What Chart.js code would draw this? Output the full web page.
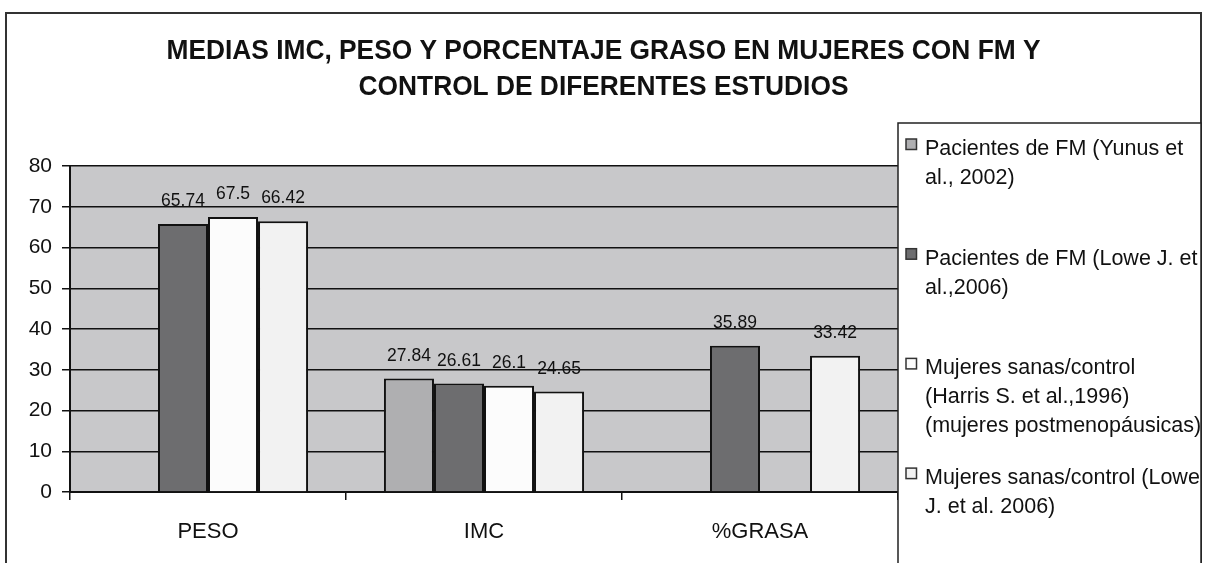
<!DOCTYPE html>
<html>
<head>
<meta charset="utf-8">
<script src="https://cdn.jsdelivr.net/npm/chart.js@4.4.1/dist/chart.umd.min.js"></script>
<style>
  html, body { margin: 0; padding: 0; background: #fff; }
  #wrap { width: 1211px; height: 563px; position: relative; overflow: hidden; }
</style>
</head>
<body>
<div id="wrap"><canvas id="c" width="1211" height="563"></canvas></div>
<script>
// ---- data ----
const categories = ['PESO', 'IMC', '%GRASA'];
const yunus2002   = [null, 27.84, null];
const loweFM2006  = [65.74, 26.61, 35.89];
const harris1996  = [67.5, 26.1, null];
const loweCtl2006 = [66.42, 24.65, 33.42];
const yTicks = [0, 10, 20, 30, 40, 50, 60, 70, 80];
const titleLines = ['MEDIAS IMC, PESO Y PORCENTAJE GRASO EN MUJERES CON FM Y', 'CONTROL DE DIFERENTES ESTUDIOS'];
const legendLines = [
  ['Pacientes de FM (Yunus et', 'al., 2002)'],
  ['Pacientes de FM (Lowe J. et', 'al.,2006)'],
  ['Mujeres sanas/control', '(Harris S. et al.,1996)', '(mujeres postmenopáusicas)'],
  ['Mujeres sanas/control (Lowe', 'J. et al. 2006)']
];
const seriesColors = ['#afafb1', '#6d6d6f', '#fcfcfc', '#f2f2f2'];

const FONT = '"Liberation Sans", Arial, Helvetica, sans-serif';
const INK = '#111111';

const bgPlugin = {
  id: 'bg',
  beforeDraw(chart) {
    const ctx = chart.ctx, a = chart.chartArea;
    ctx.save();
    ctx.fillStyle = '#ffffff';
    ctx.fillRect(0, 0, chart.width, chart.height);
    ctx.strokeStyle = '#333333';
    ctx.lineWidth = 2;
    ctx.strokeRect(6, 13, 1195, 700);
    ctx.fillStyle = '#c8c8ca';
    ctx.fillRect(a.left, a.top, a.right - a.left, a.bottom - a.top);
    ctx.restore();
  }
};

const labelPlugin = {
  id: 'valueLabels',
  afterDatasetsDraw(chart) {
    const ctx = chart.ctx;
    ctx.save();
    ctx.font = '17.5px ' + FONT;
    ctx.fillStyle = INK;
    ctx.textAlign = 'center';
    ctx.textBaseline = 'alphabetic';
    chart.data.datasets.forEach((ds, i) => {
      const meta = chart.getDatasetMeta(i);
      meta.data.forEach((el, j) => {
        const v = ds.data[j];
        if (v === null || v === undefined) return;
        ctx.fillText(String(v), el.x, el.y - 18);
      });
    });
    ctx.restore();
  }
};

const decorPlugin = {
  id: 'decor',
  afterDraw(chart) {
    const ctx = chart.ctx;
    ctx.save();
    // title (slightly condensed, like the original)
    ctx.fillStyle = INK;
    ctx.font = 'bold 28px ' + FONT;
    ctx.textAlign = 'center';
    ctx.textBaseline = 'alphabetic';
    [[titleLines[0], 59], [titleLines[1], 95]].forEach(([t, y]) => {
      ctx.save();
      ctx.translate(603.5, y);
      ctx.scale(0.94, 1);
      ctx.fillText(t, 0, 0);
      ctx.restore();
    });
    // legend box
    ctx.fillStyle = '#ffffff';
    ctx.fillRect(898, 123, 303, 600);
    ctx.strokeStyle = '#222222';
    ctx.lineWidth = 1.5;
    ctx.strokeRect(898, 123, 303, 600);
    ctx.font = '21.5px ' + FONT;
    ctx.textAlign = 'left';
    chart.data.datasets.forEach((ds, i) => {
      const base = 155 + 109.7 * i;
      ctx.fillStyle = ds.backgroundColor;
      ctx.fillRect(906, base - 16, 10.5, 10.5);
      ctx.strokeStyle = '#333333';
      ctx.lineWidth = 1.5;
      ctx.strokeRect(906, base - 16, 10.5, 10.5);
      ctx.fillStyle = INK;
      legendLines[i].forEach((ln, k) => ctx.fillText(ln, 925, base + 29 * k));
    });
    ctx.restore();
  }
};

const labels = ['Pacientes de FM (Yunus et al., 2002)', 'Pacientes de FM (Lowe J. et al.,2006)',
  'Mujeres sanas/control (Harris S. et al.,1996) (mujeres postmenopáusicas)', 'Mujeres sanas/control (Lowe J. et al. 2006)'];
const seriesData = [yunus2002, loweFM2006, harris1996, loweCtl2006];

new Chart(document.getElementById('c'), {
  type: 'bar',
  data: {
    labels: categories,
    datasets: seriesData.map((d, i) => ({
      label: labels[i],
      data: d,
      backgroundColor: seriesColors[i],
      borderColor: INK,
      borderWidth: 2,
      barPercentage: 1,
      categoryPercentage: 0.725
    }))
  },
  options: {
    responsive: false,
    animation: false,
    devicePixelRatio: 1,
    layout: { padding: { left: 0, right: 313, top: 166, bottom: 0 } },
    plugins: { legend: { display: false }, title: { display: false }, tooltip: { enabled: false } },
    scales: {
      x: {
        offset: true,
        grid: { display: true, drawOnChartArea: false, drawTicks: true, tickLength: 8, color: INK, lineWidth: 1.5, offset: true },
        border: { display: true, color: INK, width: 2 },
        ticks: { color: INK, font: { size: 22, family: FONT }, padding: 19 },
        afterFit(s) { s.height = 71; }
      },
      y: {
        min: 0, max: 80,
        afterBuildTicks(s) { s.ticks = yTicks.map(v => ({ value: v })); },
        grid: { color: INK, lineWidth: 1.5, tickLength: 8, drawTicks: true },
        border: { display: true, color: INK, width: 2 },
        ticks: { color: INK, font: { size: 21, family: FONT }, padding: 10 },
        afterFit(s) { s.width = 70; }
      }
    }
  },
  plugins: [bgPlugin, labelPlugin, decorPlugin]
});
</script>
</body>
</html>
